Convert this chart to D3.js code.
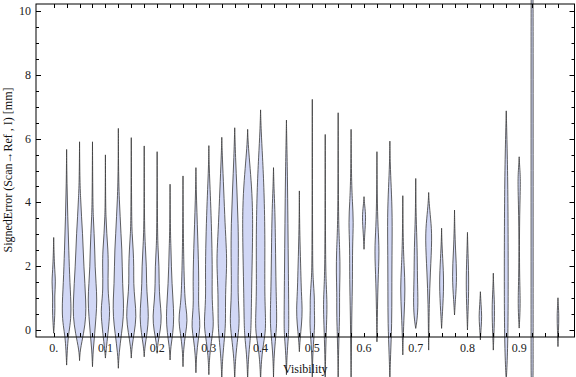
<!DOCTYPE html>
<html>
<head>
<meta charset="utf-8">
<script src="https://cdn.jsdelivr.net/npm/d3@7"></script>
<style>
  body { margin: 0; background: #fff; }
  svg text { font-family: "Liberation Serif", "Times New Roman", serif; }
</style>
</head>
<body>
<div id="chart"></div>
<script>
// visibility bins (0.95 has no data)
const visibility = [0, 0.025, 0.05, 0.075, 0.1, 0.125, 0.15, 0.175, 0.2, 0.225,
  0.25, 0.275, 0.3, 0.325, 0.35, 0.375, 0.4, 0.425, 0.45, 0.475,
  0.5, 0.525, 0.55, 0.575, 0.6, 0.625, 0.65, 0.675, 0.7, 0.725,
  0.75, 0.775, 0.8, 0.825, 0.85, 0.875, 0.9, 0.925, 0.975]

const errMin = [-0.1, -1.1, -0.96, -1.15, -0.88, -1.2, -0.88, -0.84, -0.73, -0.94,
  -1.15, -1.34, -1.4, -1.6, -1.6, -1.6, -1.6, -1.5, -1.4, -0.68,
  -1.6, -1.6, -1.6, -1.6, 2.53, -0.37, -1.6, -0.78, 0.05, -0.63,
  0.05, 0.47, 0, -0.31, -0.63, -1.6, 0.06, -1.8, -0.52]

const errMax = [2.9, 5.66, 5.9, 5.9, 5.49, 6.32, 6.03, 5.77, 5.59, 4.57,
  4.83, 5.09, 5.78, 6.04, 6.34, 6.29, 6.9, 5.09, 6.58, 4.36,
  7.23, 6.13, 6.81, 6.29, 4.18, 5.59, 5.92, 4.21, 4.75, 4.31,
  3.19, 3.76, 3.06, 1.2, 1.78, 6.87, 5.43, 11.5, 1.01]

// density profile of each violin: [error, relative density]
const profiles = [
  [[0.2, 0.1], [0.7, 0.22], [1.05, 0.12], [1.5, 0.32], [2.0, 0.1]],
  [[-0.63, 0.1], [-0.2, 0.25], [0.1, 0.5], [0.6, 0.75], [1.46, 0.5], [2.5, 0.33], [3.55, 0.17], [4.6, 0.05]],
  [[-0.63, 0.08], [-0.1, 0.64], [0.42, 1.0], [0.94, 0.95], [1.46, 0.82], [1.98, 0.67], [2.51, 0.56], [3.03, 0.46], [3.55, 0.3], [4.08, 0.18], [4.6, 0.05]],
  [[-0.63, 0.1], [-0.1, 0.35], [0.42, 0.55], [0.94, 0.7], [1.46, 0.55], [1.98, 0.4], [2.51, 0.35], [3.03, 0.25], [3.55, 0.12], [4.08, 0.05]],
  [[-0.63, 0.1], [-0.1, 0.4], [0.42, 0.65], [0.73, 0.65], [1.25, 0.35], [1.98, 0.45], [2.51, 0.4], [3.03, 0.2], [3.55, 0.08], [4.08, 0.03]],
  [[-0.73, 0.1], [-0.1, 0.5], [0.42, 0.8], [0.94, 0.8], [1.46, 0.65], [1.98, 0.6], [2.51, 0.55], [3.03, 0.4], [3.55, 0.28], [4.08, 0.15], [4.6, 0.07], [5.33, 0.02]],
  [[-0.52, 0.1], [-0.1, 0.45], [0.42, 0.8], [0.94, 0.55], [1.46, 0.35], [1.98, 0.4], [2.51, 0.3], [3.03, 0.12], [3.55, 0.05]],
  [[-0.52, 0.1], [-0.1, 0.45], [0.42, 0.7], [0.94, 0.5], [1.46, 0.35], [1.98, 0.35], [2.51, 0.2], [3.03, 0.08], [3.76, 0.03]],
  [[-0.42, 0.1], [0.0, 0.5], [0.42, 0.7], [0.94, 0.4], [1.46, 0.3], [1.98, 0.3], [2.51, 0.15], [3.03, 0.05]],
  [[-0.52, 0.1], [-0.1, 0.45], [0.42, 0.6], [0.94, 0.45], [1.46, 0.3], [1.98, 0.2], [2.51, 0.15], [3.03, 0.05]],
  [[-0.6, 0.08], [-0.1, 0.4], [0.3, 0.7], [0.7, 0.45], [1.0, 0.3], [1.5, 0.2], [2.2, 0.12], [3.0, 0.05]],
  [[-0.8, 0.08], [-0.3, 0.35], [0.1, 0.67], [0.5, 0.5], [0.9, 0.38], [1.5, 0.45], [2.2, 0.38], [2.9, 0.28], [3.7, 0.15], [4.4, 0.05]],
  [[-0.8, 0.1], [-0.2, 0.5], [0.2, 0.77], [0.94, 0.46], [1.78, 0.54], [2.82, 0.46], [3.87, 0.3], [4.6, 0.15], [5.2, 0.04]],
  [[-0.9, 0.1], [-0.2, 0.45], [0.3, 0.6], [1.1, 0.54], [2.0, 0.77], [2.5, 0.72], [3.34, 0.5], [4.39, 0.3], [5.43, 0.08]],
  [[-0.9, 0.1], [-0.2, 0.5], [0.31, 0.77], [1.1, 0.46], [2.3, 0.58], [3.34, 0.54], [4.39, 0.34], [5.43, 0.12]],
  [[-0.9, 0.1], [-0.3, 0.4], [0.1, 0.54], [1.25, 0.6], [2.82, 0.77], [3.87, 0.77], [4.7, 0.54], [5.43, 0.23], [5.96, 0.05]],
  [[-0.9, 0.12], [-0.3, 0.55], [0.1, 0.85], [1.1, 0.6], [2.82, 0.7], [4.39, 0.54], [5.43, 0.3], [6.27, 0.08]],
  [[-0.8, 0.08], [-0.2, 0.35], [0.3, 0.54], [1.25, 0.38], [2.82, 0.3], [3.87, 0.2], [4.4, 0.08]],
  [[-0.8, 0.08], [-0.2, 0.3], [0.1, 0.38], [1.78, 0.3], [3.34, 0.23], [4.91, 0.15], [5.96, 0.05]],
  [[-0.3, 0.1], [0.2, 0.35], [0.63, 0.46], [1.2, 0.3], [1.78, 0.23], [2.82, 0.09], [3.5, 0.03]],
  [[-0.8, 0.05], [-0.1, 0.3], [0.3, 0.38], [0.6, 0.3], [1.0, 0.35], [1.6, 0.12], [2.1, 0.05], [4, 0.03]],
  [[-0.8, 0.05], [0.2, 0.2], [0.8, 0.3], [1.4, 0.15], [2.2, 0.05], [4, 0.03]],
  [[-0.8, 0.05], [0.0, 0.15], [0.5, 0.23], [1.2, 0.2], [1.8, 0.3], [2.5, 0.25], [3.2, 0.08], [4.5, 0.03]],
  [[-0.8, 0.05], [0.5, 0.1], [1.6, 0.23], [2.6, 0.2], [3.4, 0.38], [4.0, 0.2], [4.8, 0.05]],
  [[3.0, 0.1], [3.55, 0.3], [3.9, 0.1]],
  [[0.3, 0.05], [1.5, 0.15], [2.5, 0.38], [3.2, 0.15], [4.2, 0.04]],
  [[-0.8, 0.1], [0.2, 0.3], [1.2, 0.3], [2.3, 0.32], [3.6, 0.38], [4.5, 0.2], [5.2, 0.05]],
  [[-0.3, 0.05], [0.5, 0.2], [1.3, 0.38], [2.0, 0.2], [2.8, 0.05]],
  [[0.3, 0.2], [0.8, 0.38], [1.6, 0.25], [2.6, 0.23], [3.5, 0.05]],
  [[-0.2, 0.03], [0.8, 0.08], [1.8, 0.25], [2.9, 0.54], [3.5, 0.3], [4.0, 0.06]],
  [[0.5, 0.12], [1.46, 0.38], [2.3, 0.15], [2.8, 0.04]],
  [[0.9, 0.12], [1.67, 0.38], [2.5, 0.15], [3.2, 0.04]],
  [[0.5, 0.08], [1.46, 0.23], [2.3, 0.1], [2.8, 0.03]],
  [[0.1, 0.12], [0.42, 0.23], [0.8, 0.1]],
  [[-0.2, 0.08], [0.65, 0.23], [1.3, 0.06]],
  [[-0.8, 0.2], [0.5, 0.3], [2.5, 0.3], [4.5, 0.25], [5.9, 0.12]],
  [[0.4, 0.1], [0.94, 0.18], [1.8, 0.04], [3.5, 0.04], [4.7, 0.23], [5.1, 0.08]],
  [[-1.6, 0.15], [-1.0, 0.16], [1, 0.16], [5, 0.16], [9, 0.16], [11.0, 0.15]],
  [[0.0, 0.08], [0.42, 0.15], [0.8, 0.05]]
]

const xTickLabels = ["0.", "0.1", "0.2", "0.3", "0.4", "0.5", "0.6", "0.7", "0.8", "0.9"]
const xTickValues = [0, 0.1, 0.2, 0.3, 0.4, 0.5, 0.6, 0.7, 0.8, 0.9]
const yTickValues = [0, 2, 4, 6, 8, 10]

const width = 576
const height = 377
const frame = { left: 36, right: 574.5, top: 4, bottom: 337 }

const svg = d3.select("#chart")
  .append("svg")
    .attr("width", width)
    .attr("height", height)

const xScale = d3.scaleLinear()
  .domain([0, 1])
  .range([53.7, 570.9])

const yScale = d3.scaleLinear()
  .domain([0, 10])
  .range([330, 11])

const widthScale = d3.scaleLinear()
  .domain([0, 1])
  .range([0, 6.5])

// violins
const violin = d3.area()
  .curve(d3.curveBasis)
  .y(d => yScale(d[0]))

const violins = svg.append("g")
visibility.forEach((v, i) => {
  const pts = [[errMin[i], 0], ...profiles[i], [errMax[i], 0]]
  const cx = xScale(v)
  violins.append("path")
    .datum(pts)
    .attr("d", violin
      .x0(d => cx - widthScale(d[1]))
      .x1(d => cx + widthScale(d[1])))
    .attr("fill", "#ccd3f4")
    .attr("fill-opacity", 0.9)
    .attr("stroke", "#3a3a3a")
    .attr("stroke-opacity", 0.8)
    .attr("stroke-width", 1)
})

// frame
const axes = svg.append("g")
  .attr("stroke", "#000")
  .attr("stroke-width", 1)
  .attr("fill", "none")

axes.append("rect")
  .attr("x", frame.left)
  .attr("y", frame.top)
  .attr("width", frame.right - frame.left)
  .attr("height", frame.bottom - frame.top)

// x ticks at every bin (top and bottom)
const xTickAll = d3.range(0, 40).map(k => k / 40)
axes.selectAll(".xtick-b")
  .data(xTickAll)
  .join("line")
    .attr("x1", d => Math.round(xScale(d)) + 0.5)
    .attr("x2", d => Math.round(xScale(d)) + 0.5)
    .attr("y1", frame.bottom)
    .attr("y2", frame.bottom - 4)
axes.selectAll(".xtick-t")
  .data(xTickAll)
  .join("line")
    .attr("x1", d => Math.round(xScale(d)) + 0.5)
    .attr("x2", d => Math.round(xScale(d)) + 0.5)
    .attr("y1", frame.top)
    .attr("y2", frame.top + 4)

// y ticks, minor every 0.5
const yMinor = d3.range(0, 21).map(k => k / 2)
;[frame.left, frame.right].forEach((fx, side) => {
  const dir = side === 0 ? 1 : -1
  axes.append("g").selectAll("line")
    .data(yMinor)
    .join("line")
      .attr("x1", fx)
      .attr("x2", d => fx + dir * (d % 2 === 0 ? 5 : 3))
      .attr("y1", d => Math.round(yScale(d)) + 0.5)
      .attr("y2", d => Math.round(yScale(d)) + 0.5)
})

// tick labels
svg.append("g").selectAll("text")
  .data(xTickValues)
  .join("text")
    .attr("x", d => xScale(d))
    .attr("y", 351.5)
    .attr("text-anchor", "middle")
    .attr("font-size", 12)
    .attr("fill", "#222")
    .text((d, i) => xTickLabels[i])

svg.append("g").selectAll("text")
  .data(yTickValues)
  .join("text")
    .attr("x", 31)
    .attr("y", d => yScale(d) + 4)
    .attr("text-anchor", "end")
    .attr("font-size", 12)
    .attr("fill", "#222")
    .text(d => d)

// axis labels
svg.append("text")
  .attr("x", (frame.left + frame.right) / 2)
  .attr("y", 373)
  .attr("text-anchor", "middle")
  .attr("font-size", 12)
  .attr("fill", "#111")
  .text("Visibility")

svg.append("text")
  .attr("transform", `translate(12, ${170}) rotate(-90)`)
  .attr("text-anchor", "middle")
  .attr("font-size", 12)
  .attr("fill", "#111")
  .text("SignedError (Scan\u2192Ref , I) [mm]")
</script>
</body>
</html>
